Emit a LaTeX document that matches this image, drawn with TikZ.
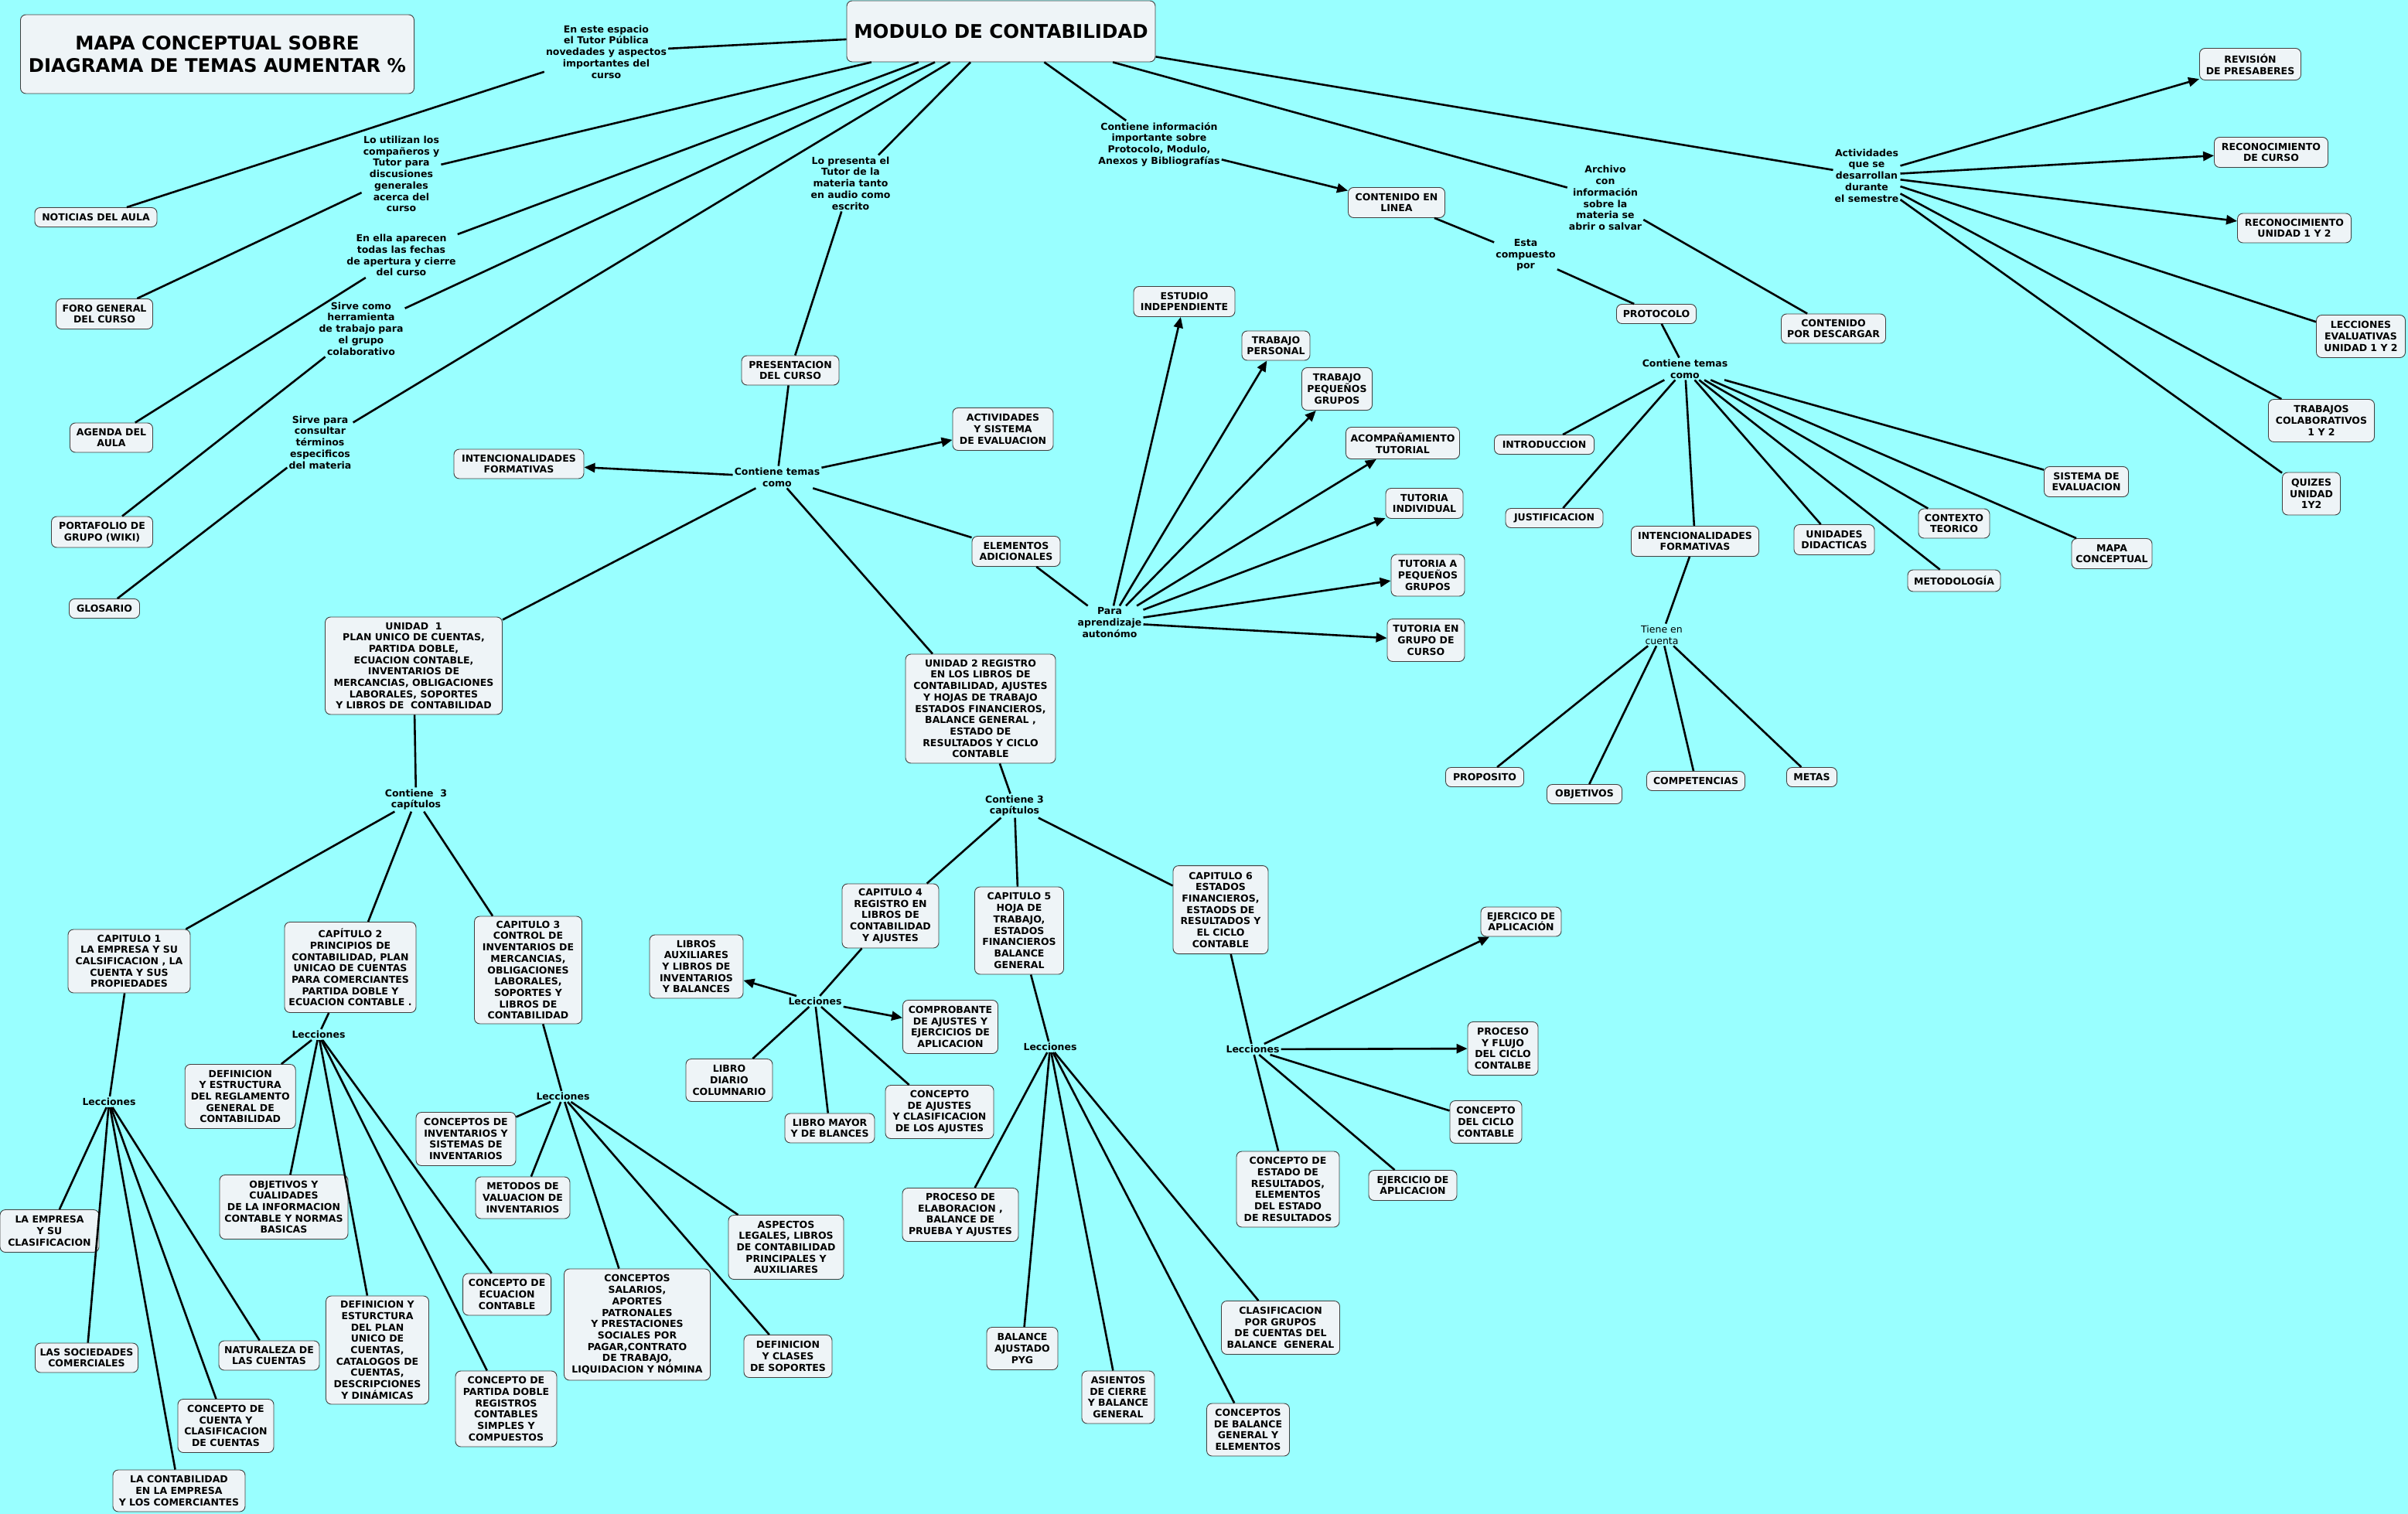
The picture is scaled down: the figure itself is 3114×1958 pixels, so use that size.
\documentclass[tikz,border=0pt]{standalone}
\usepackage{fontspec}
\setmainfont{DejaVu Sans}
\usetikzlibrary{arrows.meta}
\definecolor{bgc}{RGB}{153,255,255}
\definecolor{nodefill}{RGB}{238,244,247}
\newcommand{\nodefont}{\fontsize{12.5}{14.7}\selectfont\bfseries}
\newcommand{\lpfontreg}{\fontsize{12.5}{14.7}\selectfont}
\tikzset{
  cbox/.style={draw=black!75, line width=0.9pt, fill=nodefill, rounded corners=7pt, align=center, inner sep=0pt, font=\nodefont},
  lp/.style={align=center, inner sep=2pt, font=\nodefont},
  lpreg/.style={align=center, inner sep=2pt, font=\lpfontreg},
  con/.style={line width=2.6pt, draw=black},
  arr/.style={con, -{Triangle[length=14pt,width=12pt]}},
}
\begin{document}
\begin{tikzpicture}[x=1pt,y=-1pt]
\fill[bgc] (0,0) rectangle (3114,1958);
\useasboundingbox (0,0) rectangle (3114,1958);

% ---------- main nodes ----------
\node[cbox, minimum width=509pt, minimum height=102pt, font=\fontsize{24.3}{29.5}\selectfont\bfseries] (title) at (281,70) {MAPA CONCEPTUAL SOBRE\\DIAGRAMA DE TEMAS AUMENTAR \%};
\node[cbox, minimum width=399pt, minimum height=79pt, font=\fontsize{24.5}{29}\selectfont\bfseries] (modulo) at (1294.5,40.5) {MODULO DE CONTABILIDAD};

\node[cbox, minimum width=158pt, minimum height=25pt] (noticias) at (124,281) {NOTICIAS DEL AULA};
\node[cbox, minimum width=125pt, minimum height=39pt] (foro) at (135,406) {FORO GENERAL\\DEL CURSO};
\node[cbox, minimum width=107pt, minimum height=38pt] (agenda) at (144,566) {AGENDA DEL\\AULA};
\node[cbox, minimum width=131pt, minimum height=40pt] (portafolio) at (132,688) {PORTAFOLIO DE\\GRUPO (WIKI)};
\node[cbox, minimum width=91pt, minimum height=25pt] (glosario) at (135,787) {GLOSARIO};
\node[cbox, minimum width=168pt, minimum height=38pt] (intL) at (671,600) {INTENCIONALIDADES\\FORMATIVAS};
\node[cbox, minimum width=126pt, minimum height=38pt] (present) at (1022,479) {PRESENTACION\\DEL CURSO};
\node[cbox, minimum width=130pt, minimum height=55pt] (activ) at (1297,555) {ACTIVIDADES\\Y SISTEMA\\DE EVALUACION};
\node[cbox, minimum width=114pt, minimum height=39pt] (elem) at (1314,713) {ELEMENTOS\\ADICIONALES};
\node[cbox, minimum width=131pt, minimum height=39pt] (estudio) at (1531.5,390) {ESTUDIO\\INDEPENDIENTE};
\node[cbox, minimum width=88pt, minimum height=38pt] (trabPers) at (1650,447) {TRABAJO\\PERSONAL};
\node[cbox, minimum width=91pt, minimum height=55pt] (trabPeq) at (1729,503) {TRABAJO\\PEQUEÑOS\\GRUPOS};
\node[cbox, minimum width=147pt, minimum height=41pt] (acomp) at (1814,573) {ACOMPAÑAMIENTO\\TUTORIAL};
\node[cbox, minimum width=100pt, minimum height=39pt] (tutInd) at (1842,651) {TUTORIA\\INDIVIDUAL};
\node[cbox, minimum width=95pt, minimum height=54pt] (tutPeq) at (1846.5,744) {TUTORIA A\\PEQUEÑOS\\GRUPOS};
\node[cbox, minimum width=100pt, minimum height=55pt] (tutGrupo) at (1844,828) {TUTORIA EN\\GRUPO DE\\CURSO};
\node[cbox, minimum width=125pt, minimum height=39pt] (contLinea) at (1806,262) {CONTENIDO EN\\LINEA};
\node[cbox, minimum width=103pt, minimum height=25pt] (protocolo) at (2142,406) {PROTOCOLO};
\node[cbox, minimum width=135pt, minimum height=38pt] (contDesc) at (2371,425) {CONTENIDO\\POR DESCARGAR};
\node[cbox, minimum width=129pt, minimum height=25pt] (intro) at (1997,575) {INTRODUCCION};
\node[cbox, minimum width=126pt, minimum height=25pt] (justif) at (2010,670) {JUSTIFICACION};
\node[cbox, minimum width=165pt, minimum height=39pt] (intR) at (2192,700) {INTENCIONALIDADES\\FORMATIVAS};
\node[cbox, minimum width=104pt, minimum height=39pt] (unidDid) at (2372,698) {UNIDADES\\DIDACTICAS};
\node[cbox, minimum width=92pt, minimum height=38pt] (contexto) at (2527,677) {CONTEXTO\\TEORICO};
\node[cbox, minimum width=120pt, minimum height=28pt] (metod) at (2527,751) {METODOLOGÍA};
\node[cbox, minimum width=104pt, minimum height=39pt] (mapa) at (2731,716) {MAPA\\CONCEPTUAL};
\node[cbox, minimum width=109pt, minimum height=39pt] (sistEval) at (2698,623) {SISTEMA DE\\EVALUACION};
\node[cbox, minimum width=101pt, minimum height=25pt] (proposito) at (1920,1005) {PROPOSITO};
\node[cbox, minimum width=97pt, minimum height=25pt] (objetivos) at (2049,1027) {OBJETIVOS};
\node[cbox, minimum width=127pt, minimum height=25pt] (competencias) at (2193,1010) {COMPETENCIAS};
\node[cbox, minimum width=65pt, minimum height=25pt] (metas) at (2343,1005) {METAS};
\node[cbox, minimum width=131pt, minimum height=41pt] (revision) at (2910,83) {REVISIÓN\\DE PRESABERES};
\node[cbox, minimum width=147pt, minimum height=39pt] (recCurso) at (2937,197) {RECONOCIMIENTO\\DE CURSO};
\node[cbox, minimum width=147pt, minimum height=38pt] (recUnidad) at (2967,295) {RECONOCIMIENTO\\UNIDAD 1 Y 2};
\node[cbox, minimum width=115pt, minimum height=55pt] (leccEval) at (3053,435) {LECCIONES\\EVALUATIVAS\\UNIDAD 1 Y 2};
\node[cbox, minimum width=137pt, minimum height=55pt] (trabColab) at (3002,544) {TRABAJOS\\COLABORATIVOS\\1 Y 2};
\node[cbox, minimum width=75pt, minimum height=55pt] (quizes) at (2989,638.5) {QUIZES\\UNIDAD\\1Y2};

\node[cbox, minimum width=229pt, minimum height=126pt] (unidad1) at (535,861) {UNIDAD\ \ 1\\PLAN UNICO DE CUENTAS,\\PARTIDA DOBLE,\\ECUACION CONTABLE,\\INVENTARIOS DE\\MERCANCIAS, OBLIGACIONES\\LABORALES, SOPORTES\\Y LIBROS DE\ \ CONTABILIDAD};
\node[cbox, minimum width=194pt, minimum height=141pt] (unidad2) at (1268,916.5) {UNIDAD 2 REGISTRO\\EN LOS LIBROS DE\\CONTABILIDAD, AJUSTES\\Y HOJAS DE TRABAJO\\ESTADOS FINANCIEROS,\\BALANCE GENERAL ,\\ESTADO DE\\RESULTADOS Y CICLO\\CONTABLE};
\node[cbox, minimum width=158pt, minimum height=82pt] (cap1) at (167,1243) {CAPITULO 1\\LA EMPRESA Y SU\\CALSIFICACION , LA\\CUENTA Y SUS\\PROPIEDADES};
\node[cbox, minimum width=170pt, minimum height=117pt] (cap2) at (453,1251) {CAPÍTULO 2\\PRINCIPIOS DE\\CONTABILIDAD, PLAN\\UNICAO DE CUENTAS\\PARA COMERCIANTES\\PARTIDA DOBLE Y\\ECUACION CONTABLE .};
\node[cbox, minimum width=139pt, minimum height=139pt] (cap3) at (683,1254.5) {CAPITULO 3\\CONTROL DE\\INVENTARIOS DE\\MERCANCIAS,\\OBLIGACIONES\\LABORALES,\\SOPORTES Y\\LIBROS DE\\CONTABILIDAD};
\node[cbox, minimum width=125pt, minimum height=83pt] (cap4) at (1151.5,1184.5) {CAPITULO 4\\REGISTRO EN\\LIBROS DE\\CONTABILIDAD\\Y AJUSTES};
\node[cbox, minimum width=115pt, minimum height=113pt] (cap5) at (1318,1203.5) {CAPITULO 5\\HOJA DE\\TRABAJO,\\ESTADOS\\FINANCIEROS\\BALANCE\\GENERAL};
\node[cbox, minimum width=123pt, minimum height=114pt] (cap6) at (1578.5,1176.6) {CAPITULO 6\\ESTADOS\\FINANCIEROS,\\ESTAODS DE\\RESULTADOS Y\\EL CICLO\\CONTABLE};

\node[cbox, minimum width=128pt, minimum height=55pt] (empresa) at (64,1592) {LA EMPRESA\\Y SU\\CLASIFICACION};
\node[cbox, minimum width=133pt, minimum height=38pt] (sociedades) at (112,1756) {LAS SOCIEDADES\\COMERCIALES};
\node[cbox, minimum width=171pt, minimum height=54pt] (contabEmp) at (231.5,1928) {LA CONTABILIDAD\\EN LA EMPRESA\\Y LOS COMERCIANTES};
\node[cbox, minimum width=124pt, minimum height=69pt] (conceptoCuenta) at (292,1844) {CONCEPTO DE\\CUENTA Y\\CLASIFICACION\\DE CUENTAS};
\node[cbox, minimum width=130pt, minimum height=38pt] (naturaleza) at (348,1753) {NATURALEZA DE\\LAS CUENTAS};
\node[cbox, minimum width=143pt, minimum height=83pt] (defReg) at (310.7,1418) {DEFINICION\\Y ESTRUCTURA\\DEL REGLAMENTO\\GENERAL DE\\CONTABILIDAD};
\node[cbox, minimum width=166pt, minimum height=83pt] (objetivosCual) at (367,1561) {OBJETIVOS Y\\CUALIDADES\\DE LA INFORMACION\\CONTABLE Y NORMAS\\BASICAS};
\node[cbox, minimum width=133pt, minimum height=140pt] (defPlan) at (488,1746) {DEFINICION Y\\ESTURCTURA\\DEL PLAN\\UNICO DE\\CUENTAS,\\CATALOGOS DE\\CUENTAS,\\DESCRIPCIONES\\Y DINÁMICAS};
\node[cbox, minimum width=114pt, minimum height=54pt] (ecuacion) at (655.6,1674) {CONCEPTO DE\\ECUACION\\CONTABLE};
\node[cbox, minimum width=131pt, minimum height=98pt] (partida) at (654.5,1822) {CONCEPTO DE\\PARTIDA DOBLE\\REGISTROS\\CONTABLES\\SIMPLES Y\\COMPUESTOS};
\node[cbox, minimum width=129pt, minimum height=69pt] (concInv) at (602.5,1473) {CONCEPTOS DE\\INVENTARIOS Y\\SISTEMAS DE\\INVENTARIOS};
\node[cbox, minimum width=122pt, minimum height=54pt] (metodos) at (676,1549) {METODOS DE\\VALUACION DE\\INVENTARIOS};
\node[cbox, minimum width=189pt, minimum height=144pt] (salarios) at (824,1713) {CONCEPTOS\\SALARIOS,\\APORTES\\PATRONALES\\Y PRESTACIONES\\SOCIALES POR\\PAGAR,CONTRATO\\DE TRABAJO,\\LIQUIDACION Y NÓMINA};
\node[cbox, minimum width=114pt, minimum height=55pt] (defSoportes) at (1019,1754) {DEFINICION\\Y CLASES\\DE SOPORTES};
\node[cbox, minimum width=149pt, minimum height=83pt] (aspectos) at (1016.5,1613) {ASPECTOS\\LEGALES, LIBROS\\DE CONTABILIDAD\\PRINCIPALES Y\\AUXILIARES};
\node[cbox, minimum width=121pt, minimum height=82pt] (librosAux) at (900.5,1250) {LIBROS\\AUXILIARES\\Y LIBROS DE\\INVENTARIOS\\Y BALANCES};
\node[cbox, minimum width=123pt, minimum height=69pt] (comprobante) at (1229,1328) {COMPROBANTE\\DE AJUSTES Y\\EJERCICIOS DE\\APLICACION};
\node[cbox, minimum width=112pt, minimum height=55pt] (diario) at (943,1397) {LIBRO\\DIARIO\\COLUMNARIO};
\node[cbox, minimum width=116pt, minimum height=38pt] (mayor) at (1073,1459) {LIBRO MAYOR\\Y DE BLANCES};
\node[cbox, minimum width=140pt, minimum height=69pt] (ajustes) at (1215,1438) {CONCEPTO\\DE AJUSTES\\Y CLASIFICACION\\DE LOS AJUSTES};
\node[cbox, minimum width=150pt, minimum height=69pt] (procesoElab) at (1242,1571) {PROCESO DE\\ELABORACION ,\\BALANCE DE\\PRUEBA Y AJUSTES};
\node[cbox, minimum width=92pt, minimum height=55pt] (balanceAj) at (1322,1744) {BALANCE\\AJUSTADO\\PYG};
\node[cbox, minimum width=94pt, minimum height=68pt] (asientos) at (1446,1807) {ASIENTOS\\DE CIERRE\\Y BALANCE\\GENERAL};
\node[cbox, minimum width=107pt, minimum height=68pt] (conceptosBal) at (1614,1849) {CONCEPTOS\\DE BALANCE\\GENERAL Y\\ELEMENTOS};
\node[cbox, minimum width=153pt, minimum height=69pt] (clasif) at (1656,1717) {CLASIFICACION\\POR GRUPOS\\DE CUENTAS DEL\\BALANCE\ \ GENERAL};
\node[cbox, minimum width=104pt, minimum height=38pt] (ejercico) at (1967,1192) {EJERCICO DE\\APLICACIÓN};
\node[cbox, minimum width=91pt, minimum height=69pt] (procesoFlujo) at (1943.5,1356) {PROCESO\\Y FLUJO\\DEL CICLO\\CONTALBE};
\node[cbox, minimum width=93pt, minimum height=55pt] (conceptoCiclo) at (1921.5,1451) {CONCEPTO\\DEL CICLO\\CONTABLE};
\node[cbox, minimum width=114pt, minimum height=39pt] (ejercicio) at (1827,1533) {EJERCICIO DE\\APLICACION};
\node[cbox, minimum width=133pt, minimum height=98pt] (estadoRes) at (1665.5,1538) {CONCEPTO DE\\ESTADO DE\\RESULTADOS,\\ELEMENTOS\\DEL ESTADO\\DE RESULTADOS};

% ---------- linking phrases ----------
\node[lp] (L1) at (784,67) {En este espacio\\el Tutor Pública\\novedades y aspectos\\importantes del\\curso};
\node[lp] (L2) at (519,225) {Lo utilizan los\\compañeros y\\Tutor para\\discusiones\\generales\\acerca del\\curso};
\node[lp] (L3) at (519,330) {En ella aparecen\\todas las fechas\\de apertura y cierre\\del curso};
\node[lp] (L4) at (467,425) {Sirve como\\herramienta\\de trabajo para\\el grupo\\colaborativo};
\node[lp] (L5) at (414,572) {Sirve para\\consultar\\términos\\especificos\\del materia};
\node[lp] (L6) at (1100,237) {Lo presenta el\\Tutor de la\\materia tanto\\en audio como\\escrito};
\node[lp] (L7) at (1499,186.5) {Contiene información\\importante sobre\\Protocolo, Modulo,\\Anexos y Bibliografías};
\node[lp] (L8) at (2076,256) {Archivo\\con\\información\\sobre la\\materia se\\abrir o salvar};
\node[lp] (L9) at (2414,227) {Actividades\\que se\\desarrollan\\durante\\el semestre};
\node[lp] (L10) at (1973,330) {Esta\\compuesto\\por};
\node[lp] (L11) at (2179,477) {Contiene temas\\como};
\node[lp] (L12) at (1005,617) {Contiene temas\\como};
\node[lpreg] (L13) at (2149,821) {Tiene en\\cuenta};
\node[lp] (L14) at (1435,805) {Para\\aprendizaje\\autonómo};
\node[lp] (L15) at (538,1034) {Contiene\ \ 3\\capítulos};
\node[lp] (L16) at (1312,1042) {Contiene 3\\capítulos};
\node[lp] (lec1) at (141,1425) {Lecciones};
\node[lp] (lec2) at (412,1338) {Lecciones};
\node[lp] (lec3) at (728,1418) {Lecciones};
\node[lp] (lec4) at (1054,1295) {Lecciones};
\node[lp] (lec5) at (1358,1354) {Lecciones};
\node[lp] (lec6) at (1620,1357) {Lecciones};

% ---------- connectors ----------
\draw[con] (modulo) -- (L1); \draw[con] (L1) -- (noticias);
\draw[con] (modulo) -- (L2); \draw[con] (L2) -- (foro);
\draw[con] (modulo) -- (L3); \draw[con] (L3) -- (agenda);
\draw[con] (modulo) -- (L4); \draw[con] (L4) -- (portafolio);
\draw[con] (modulo) -- (L5); \draw[con] (L5) -- (glosario);
\draw[con] (modulo) -- (L6); \draw[con] (L6) -- (present);
\draw[con] (modulo) -- (L7); \draw[arr] (L7) -- (contLinea);
\draw[con] (modulo) -- (L8); \draw[con] (L8) -- (contDesc);
\draw[con] (modulo) -- (L9);
\draw[arr] (L9) -- (revision);
\draw[arr] (L9) -- (recCurso);
\draw[arr] (L9) -- (recUnidad);
\draw[con] (L9) -- (leccEval);
\draw[con] (L9) -- (trabColab);
\draw[con] (L9) -- (quizes);

\draw[con] (contLinea) -- (L10); \draw[con] (L10) -- (protocolo);
\draw[con] (protocolo) -- (L11);
\foreach \t in {intro,justif,intR,unidDid,metod,contexto,mapa,sistEval} \draw[con] (L11) -- (\t);
\draw[con] (intR) -- (L13);
\foreach \t in {proposito,objetivos,competencias,metas} \draw[con] (L13) -- (\t);

\draw[con] (present) -- (L12);
\draw[arr] (L12) -- (intL);
\draw[arr] (L12) -- (activ);
\draw[con] (L12) -- (unidad1);
\draw[con] (L12) -- (unidad2);
\draw[con] (L12) -- (elem);
\draw[con] (elem) -- (L14);
\foreach \t in {estudio,trabPers,trabPeq,acomp,tutInd,tutPeq,tutGrupo} \draw[arr] (L14) -- (\t);

\draw[con] (unidad1) -- (L15);
\foreach \t in {cap1,cap2,cap3} \draw[con] (L15) -- (\t);
\draw[con] (unidad2) -- (L16);
\foreach \t in {cap4,cap5,cap6} \draw[con] (L16) -- (\t);

\draw[con] (cap1) -- (lec1);
\foreach \t in {empresa,sociedades,contabEmp,conceptoCuenta,naturaleza} \draw[con] (lec1) -- (\t);
\draw[con] (cap2) -- (lec2);
\foreach \t in {defReg,objetivosCual,defPlan,ecuacion,partida} \draw[con] (lec2) -- (\t);
\draw[con] (cap3) -- (lec3);
\foreach \t in {concInv,metodos,salarios,defSoportes,aspectos} \draw[con] (lec3) -- (\t);
\draw[con] (cap4) -- (lec4);
\draw[arr] (lec4) -- (librosAux);
\draw[arr] (lec4) -- (comprobante);
\foreach \t in {diario,mayor,ajustes} \draw[con] (lec4) -- (\t);
\draw[con] (cap5) -- (lec5);
\foreach \t in {procesoElab,balanceAj,asientos,conceptosBal,clasif} \draw[con] (lec5) -- (\t);
\draw[con] (cap6) -- (lec6);
\draw[arr] (lec6) -- (ejercico);
\draw[arr] (lec6) -- (procesoFlujo);
\foreach \t in {conceptoCiclo,ejercicio,estadoRes} \draw[con] (lec6) -- (\t);
\end{tikzpicture}
\end{document}
